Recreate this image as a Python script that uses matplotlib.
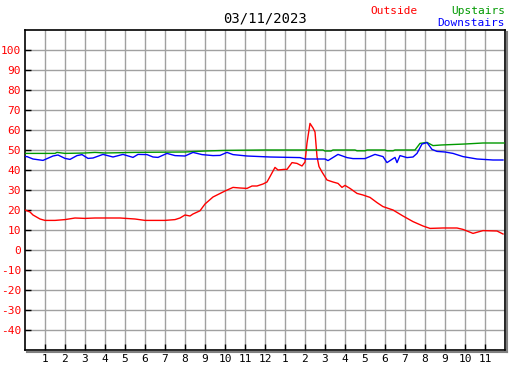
import numpy as np
import matplotlib
matplotlib.use("Agg")
import matplotlib.pyplot as plt
from matplotlib.lines import Line2D

# hours since midnight, temperature values
out_h = [0, 0.25, 0.4, 0.75, 1.0, 1.5, 2.0, 2.5, 3.0, 3.5, 4.0, 4.75, 5.5, 6.0, 7.0, 7.5, 7.75,
         8.0, 8.25, 8.4, 8.75, 9.0, 9.4, 10.0, 10.4, 10.75, 11.1, 11.35, 11.6, 11.9, 12.1, 12.25,
         12.5, 12.65, 12.95, 13.1, 13.35, 13.6, 13.85, 14.0, 14.1, 14.25, 14.4, 14.5, 14.6, 14.7,
         14.85, 15.1, 15.4, 15.65, 15.85, 16.0, 16.25, 16.6, 16.9, 17.25, 17.6, 17.9, 18.4, 18.9,
         19.4, 19.9, 20.25, 20.9, 21.6, 21.9, 22.4, 22.9, 23.6, 23.9]
out_t = [20, 19, 17.5, 15.5, 14.8, 14.8, 15.2, 16, 15.8, 16, 16, 16, 15.5, 14.8, 14.8, 15.2, 16,
         17.5, 17, 18, 19.6, 23, 26.5, 29.5, 31.3, 31, 30.8, 32, 32, 33, 34, 36.7,
         41.3, 40, 40.3, 40.3, 43.7, 43.3, 42, 44, 53.5, 63.3, 61, 59, 46.7, 41.7,
         39, 35, 34, 33.3, 31.3, 32.3, 30.8, 28.3, 27.5, 26.3, 23.7, 21.7, 20, 17,
         14.2, 12, 10.8, 11, 11, 10.3, 8.3, 9.7, 9.5, 8]

up_h = [0, 1.5, 1.6, 2.0, 3.0, 3.5, 4.0, 5.5, 8.0, 9.0, 10.0, 12.0, 14.9, 15.0, 15.3, 15.4, 16.5,
        16.6, 17.0, 17.1, 18.0, 18.1, 18.4, 18.5, 19.5, 19.75, 20.1, 20.4, 20.8, 22.0, 22.9, 23.95]
up_t = [48.3, 48.3, 48.8, 48.3, 48.5, 48.8, 48.5, 48.8, 49, 49.5, 49.8, 50, 50, 49.5, 49.5, 50, 50,
        49.6, 49.6, 50, 50, 49.6, 49.6, 50, 50, 53.3, 53.8, 52.2, 52.5, 53, 53.5, 53.5]

down_h = [0, 0.1, 0.4, 0.9, 1.4, 1.65, 2.0, 2.25, 2.6, 2.85, 3.15, 3.4, 3.9, 4.4, 4.9, 5.4, 5.65,
          6.1, 6.4, 6.65, 7.1, 7.5, 8.0, 8.4, 8.85, 9.4, 9.75, 10.1, 10.4, 11.1, 12.25, 13.75,
          14.0, 15.0, 15.15, 15.65, 16.1, 16.4, 17.0, 17.5, 17.9, 18.1, 18.3, 18.5, 18.6, 18.75,
          19.1, 19.4, 19.6, 19.85, 20.1, 20.35, 20.6, 21.0, 21.4, 21.9, 22.6, 23.4, 23.9]
down_t = [46.7, 46.7, 45.5, 44.8, 47, 47.5, 45.8, 45.3, 47.2, 47.7, 45.8, 46, 47.8, 46.5, 47.8, 46.3, 47.8,
          47.7, 46.5, 46.3, 48.3, 47.2, 47, 48.8, 47.7, 47.2, 47.3, 48.8, 47.7, 47, 46.5, 46.2,
          45.5, 45.5, 44.7, 47.8, 46.2, 45.7, 45.7, 47.8, 46.7, 43.7, 45, 46.3, 43.7, 47.2,
          46.2, 46.5, 48.3, 53, 53.7, 50.3, 49.3, 49, 48.3, 46.7, 45.5, 45, 45]

hour_labels = [str(h) for h in range(1, 12)] + ["12"] + [str(h) for h in range(1, 12)]
y_ticks = list(range(-40, 101, 10))

plt.rcParams['font.family'] = 'DejaVu Sans Mono'
fig = plt.figure(figsize=(5.27, 3.70), dpi=100)
W, H = 527, 370
ax = fig.add_axes([25 / W, 20 / H, 480 / W, 320 / H])

ax.plot(out_h, out_t, color='#ff0000', lw=1, zorder=3)
ax.plot(up_h, up_t, color='#009900', lw=1, zorder=3)
ax.plot(down_h, down_t, color='#0000ff', lw=1, zorder=4)

ax.set_xlim(0, 24)
ax.set_ylim(-50, 110)
ax.set_xticks(range(1, 24))
ax.set_xticklabels(hour_labels, fontsize=8)
ax.set_yticks(y_ticks)
ax.set_yticklabels([str(v) for v in y_ticks], fontsize=8, color='#ff0000')
ax.tick_params(direction='in', length=4, width=1, pad=3)
ax.grid(True, color='#a0a0a0', lw=1)
ax.set_axisbelow(True)
for s in ax.spines.values():
    s.set_linewidth(1.2)

# drop shadow on the right and bottom of the frame
fig.add_artist(Line2D([506.5 / W, 506.5 / W], [(370 - 352) / H, (370 - 32) / H],
                      transform=fig.transFigure, color='#808080', lw=1.5))
fig.add_artist(Line2D([27 / W, 507 / W], [(370 - 351.5) / H, (370 - 351.5) / H],
                      transform=fig.transFigure, color='#808080', lw=1.5))

fig.text(265 / W, 1 - 19 / H, "03/11/2023", ha='center', va='center', fontsize=10)
fig.text(394 / W, 1 - 11 / H, "Outside", ha='center', va='center', fontsize=8, color='#ff0000')
fig.text(505 / W, 1 - 11 / H, "Upstairs", ha='right', va='center', fontsize=8, color='#009900')
fig.text(505 / W, 1 - 23 / H, "Downstairs", ha='right', va='center', fontsize=8, color='#0000ff')

fig.savefig("out.png", dpi=100)
